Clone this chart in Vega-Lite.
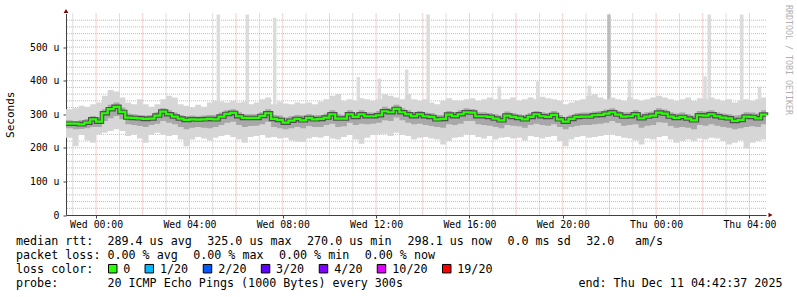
{
"$schema": "https://vega.github.io/schema/vega-lite/v6.json",
"width": 700,
"height": 201.5,
"autosize": {"type": "none"},
"padding": {"left": 66, "top": 13.5, "right": 31, "bottom": 82},
"background": "white",
"config": {"view": {"stroke": null}, "font": "DejaVu Sans Mono"},
"datasets": {
"smoke": [
{"h":-1.29,"lo":230,"a":258,"m":272,"b":282,"hi":315},
{"h":-1.0,"lo":205,"a":255,"m":272,"b":280,"hi":318},
{"h":-0.75,"lo":238,"a":256,"m":270,"b":282,"hi":325},
{"h":-0.5,"lo":222,"a":258,"m":275,"b":286,"hi":322},
{"h":-0.25,"lo":215,"a":262,"m":285,"b":295,"hi":330},
{"h":0,"lo":240,"a":262,"m":278,"b":292,"hi":335},
{"h":0.25,"lo":245,"a":280,"m":303,"b":315,"hi":355},
{"h":0.5,"lo":250,"a":288,"m":315,"b":328,"hi":372},
{"h":0.75,"lo":255,"a":295,"m":322,"b":335,"hi":368},
{"h":1.0,"lo":250,"a":285,"m":307,"b":320,"hi":350},
{"h":1.25,"lo":235,"a":270,"m":290,"b":302,"hi":335},
{"h":1.5,"lo":240,"a":268,"m":289,"b":300,"hi":330},
{"h":1.75,"lo":228,"a":265,"m":288,"b":298,"hi":345},
{"h":2.0,"lo":215,"a":262,"m":286,"b":296,"hi":330},
{"h":2.25,"lo":238,"a":268,"m":287,"b":298,"hi":322},
{"h":2.5,"lo":245,"a":272,"m":296,"b":306,"hi":330},
{"h":2.75,"lo":240,"a":280,"m":308,"b":318,"hi":345},
{"h":3.0,"lo":235,"a":275,"m":300,"b":312,"hi":355},
{"h":3.25,"lo":238,"a":270,"m":293,"b":305,"hi":350},
{"h":3.5,"lo":225,"a":262,"m":287,"b":298,"hi":330},
{"h":3.75,"lo":205,"a":255,"m":283,"b":295,"hi":325},
{"h":4.0,"lo":225,"a":260,"m":285,"b":296,"hi":320},
{"h":4.25,"lo":232,"a":262,"m":284,"b":294,"hi":328},
{"h":4.5,"lo":228,"a":260,"m":285,"b":296,"hi":322},
{"h":4.75,"lo":222,"a":258,"m":286,"b":298,"hi":335},
{"h":5.0,"lo":230,"a":262,"m":285,"b":298,"hi":340},
{"h":5.25,"lo":235,"a":268,"m":293,"b":305,"hi":338},
{"h":5.5,"lo":240,"a":275,"m":301,"b":312,"hi":335},
{"h":5.75,"lo":232,"a":278,"m":304,"b":315,"hi":340},
{"h":6.0,"lo":225,"a":268,"m":294,"b":306,"hi":335},
{"h":6.25,"lo":215,"a":262,"m":289,"b":300,"hi":338},
{"h":6.5,"lo":232,"a":265,"m":289,"b":300,"hi":330},
{"h":6.75,"lo":235,"a":266,"m":289,"b":300,"hi":335},
{"h":7.0,"lo":238,"a":270,"m":295,"b":306,"hi":345},
{"h":7.25,"lo":230,"a":278,"m":303,"b":315,"hi":350},
{"h":7.5,"lo":232,"a":262,"m":286,"b":298,"hi":330},
{"h":7.75,"lo":228,"a":258,"m":283,"b":296,"hi":338},
{"h":8.0,"lo":230,"a":255,"m":275,"b":290,"hi":332},
{"h":8.25,"lo":222,"a":258,"m":281,"b":294,"hi":330},
{"h":8.5,"lo":218,"a":262,"m":286,"b":298,"hi":335},
{"h":8.75,"lo":217,"a":258,"m":282,"b":296,"hi":332},
{"h":9.0,"lo":228,"a":265,"m":289,"b":300,"hi":335},
{"h":9.25,"lo":232,"a":262,"m":285,"b":297,"hi":330},
{"h":9.5,"lo":230,"a":262,"m":286,"b":298,"hi":338},
{"h":9.75,"lo":235,"a":268,"m":290,"b":302,"hi":345},
{"h":10.0,"lo":228,"a":272,"m":300,"b":312,"hi":355},
{"h":10.25,"lo":225,"a":262,"m":287,"b":300,"hi":360},
{"h":10.5,"lo":232,"a":264,"m":287,"b":298,"hi":340},
{"h":10.75,"lo":238,"a":275,"m":300,"b":312,"hi":345},
{"h":11.0,"lo":225,"a":268,"m":292,"b":304,"hi":340},
{"h":11.25,"lo":212,"a":272,"m":300,"b":312,"hi":348},
{"h":11.5,"lo":230,"a":270,"m":294,"b":306,"hi":345},
{"h":11.75,"lo":238,"a":272,"m":294,"b":305,"hi":340},
{"h":12.0,"lo":240,"a":275,"m":297,"b":310,"hi":345},
{"h":12.25,"lo":242,"a":282,"m":309,"b":322,"hi":360},
{"h":12.5,"lo":235,"a":280,"m":306,"b":318,"hi":355},
{"h":12.75,"lo":245,"a":290,"m":316,"b":328,"hi":350},
{"h":13.0,"lo":238,"a":282,"m":306,"b":318,"hi":345},
{"h":13.25,"lo":235,"a":275,"m":300,"b":312,"hi":360},
{"h":13.5,"lo":225,"a":270,"m":294,"b":306,"hi":345},
{"h":13.75,"lo":230,"a":272,"m":300,"b":310,"hi":340},
{"h":14.0,"lo":232,"a":268,"m":294,"b":305,"hi":345},
{"h":14.25,"lo":228,"a":265,"m":292,"b":304,"hi":335},
{"h":14.5,"lo":225,"a":262,"m":285,"b":298,"hi":330},
{"h":14.75,"lo":210,"a":260,"m":286,"b":298,"hi":340},
{"h":15.0,"lo":220,"a":270,"m":299,"b":310,"hi":348},
{"h":15.25,"lo":230,"a":268,"m":294,"b":306,"hi":342},
{"h":15.5,"lo":232,"a":272,"m":300,"b":312,"hi":340},
{"h":15.75,"lo":240,"a":280,"m":306,"b":318,"hi":345},
{"h":16.0,"lo":238,"a":280,"m":305,"b":316,"hi":348},
{"h":16.25,"lo":232,"a":270,"m":294,"b":306,"hi":340},
{"h":16.5,"lo":228,"a":268,"m":294,"b":306,"hi":345},
{"h":16.75,"lo":235,"a":266,"m":292,"b":304,"hi":350},
{"h":17.0,"lo":225,"a":262,"m":287,"b":300,"hi":345},
{"h":17.25,"lo":230,"a":258,"m":282,"b":296,"hi":345},
{"h":17.5,"lo":232,"a":268,"m":296,"b":308,"hi":345},
{"h":17.75,"lo":228,"a":266,"m":292,"b":304,"hi":350},
{"h":18.0,"lo":230,"a":264,"m":289,"b":300,"hi":340},
{"h":18.25,"lo":222,"a":260,"m":285,"b":298,"hi":345},
{"h":18.5,"lo":235,"a":268,"m":292,"b":304,"hi":350},
{"h":18.75,"lo":232,"a":272,"m":300,"b":310,"hi":345},
{"h":19.0,"lo":228,"a":268,"m":294,"b":306,"hi":352},
{"h":19.25,"lo":232,"a":266,"m":292,"b":304,"hi":348},
{"h":19.5,"lo":235,"a":270,"m":298,"b":310,"hi":345},
{"h":19.75,"lo":220,"a":262,"m":285,"b":298,"hi":340},
{"h":20.0,"lo":205,"a":255,"m":278,"b":292,"hi":330},
{"h":20.25,"lo":225,"a":262,"m":286,"b":298,"hi":335},
{"h":20.5,"lo":232,"a":266,"m":292,"b":304,"hi":340},
{"h":20.75,"lo":235,"a":268,"m":293,"b":305,"hi":345},
{"h":21.0,"lo":230,"a":268,"m":293,"b":305,"hi":355},
{"h":21.25,"lo":232,"a":270,"m":297,"b":308,"hi":360},
{"h":21.5,"lo":235,"a":272,"m":298,"b":310,"hi":350},
{"h":21.75,"lo":238,"a":275,"m":302,"b":314,"hi":345},
{"h":22.0,"lo":240,"a":280,"m":306,"b":318,"hi":350},
{"h":22.25,"lo":235,"a":274,"m":299,"b":310,"hi":345},
{"h":22.5,"lo":230,"a":266,"m":293,"b":306,"hi":340},
{"h":22.75,"lo":228,"a":268,"m":294,"b":306,"hi":350},
{"h":23.0,"lo":222,"a":270,"m":300,"b":312,"hi":345},
{"h":23.25,"lo":210,"a":260,"m":288,"b":302,"hi":340},
{"h":23.5,"lo":228,"a":266,"m":293,"b":306,"hi":345},
{"h":23.75,"lo":225,"a":268,"m":296,"b":308,"hi":350},
{"h":24.0,"lo":232,"a":276,"m":305,"b":318,"hi":355},
{"h":24.25,"lo":235,"a":275,"m":302,"b":314,"hi":350},
{"h":24.5,"lo":225,"a":265,"m":293,"b":306,"hi":345},
{"h":24.75,"lo":215,"a":260,"m":289,"b":302,"hi":340},
{"h":25.0,"lo":220,"a":262,"m":292,"b":305,"hi":345},
{"h":25.25,"lo":225,"a":260,"m":287,"b":300,"hi":350},
{"h":25.5,"lo":220,"a":255,"m":282,"b":296,"hi":340},
{"h":25.75,"lo":228,"a":268,"m":297,"b":310,"hi":348},
{"h":26.0,"lo":225,"a":266,"m":296,"b":308,"hi":345},
{"h":26.25,"lo":230,"a":270,"m":300,"b":312,"hi":350},
{"h":26.5,"lo":228,"a":266,"m":294,"b":306,"hi":345},
{"h":26.75,"lo":220,"a":262,"m":290,"b":302,"hi":340},
{"h":27.0,"lo":210,"a":260,"m":288,"b":300,"hi":345},
{"h":27.25,"lo":215,"a":255,"m":280,"b":296,"hi":335},
{"h":27.5,"lo":222,"a":258,"m":283,"b":298,"hi":340},
{"h":27.75,"lo":198,"a":262,"m":293,"b":306,"hi":345},
{"h":28.0,"lo":215,"a":264,"m":292,"b":305,"hi":340},
{"h":28.25,"lo":220,"a":262,"m":288,"b":302,"hi":345},
{"h":28.5,"lo":225,"a":270,"m":299,"b":312,"hi":350},
{"h":28.7103,"lo":225,"a":270,"m":298,"b":312,"hi":350}
],
"spikes": [
{"h":5.24,"lo":300,"hi":597},
{"h":6.48,"lo":300,"hi":597},
{"h":7.655,"lo":300,"hi":587},
{"h":11.24,"lo":300,"hi":411},
{"h":12.14,"lo":300,"hi":406},
{"h":13.31,"lo":300,"hi":433},
{"h":14.23,"lo":300,"hi":597},
{"h":17.28,"lo":300,"hi":383},
{"h":18.93,"lo":300,"hi":398},
{"h":21.14,"lo":300,"hi":385},
{"h":22.86,"lo":300,"hi":403},
{"h":26.1,"lo":300,"hi":413},
{"h":26.28,"lo":300,"hi":597},
{"h":27.67,"lo":300,"hi":597},
{"h":28.43,"lo":300,"hi":382}
],
"spikesDark": [{"h":21.98,"lo":300,"hi":597}],
"vMajor": [{"h":0},{"h":2},{"h":4},{"h":6},{"h":8},{"h":10},{"h":12},{"h":14},{"h":16},{"h":18},{"h":20},{"h":22},{"h":24},{"h":26},{"h":28}],
"vMinor": [{"h":-1},{"h":1},{"h":3},{"h":5},{"h":7},{"h":9},{"h":11},{"h":13},{"h":15},{"h":17},{"h":19},{"h":21},{"h":23},{"h":25},{"h":27}],
"hMajor": [{"v":100},{"v":200},{"v":300},{"v":400},{"v":500}],
"hMinor": [{"v":20},{"v":40},{"v":60},{"v":80},{"v":120},{"v":140},{"v":160},{"v":180},{"v":220},{"v":240},{"v":260},{"v":280},{"v":320},{"v":340},{"v":360},{"v":380},{"v":420},{"v":440},{"v":460},{"v":480},{"v":520},{"v":540},{"v":560},{"v":580}],
"arrowUp": [{"h":-1.2897,"v":600}],
"arrowRight": [{"h":28.7103,"v":0}],
"texts": [
{"h":-3.4326,"v":-88.44,"txt":"median rtt:"},
{"h":0.4841,"v":-88.44,"txt":"289.4 us avg"},
{"h":4.7625,"v":-88.44,"txt":"325.0 us max"},
{"h":9.0408,"v":-88.44,"txt":"270.0 us min"},
{"h":13.349,"v":-88.44,"txt":"298.1 us now"},
{"h":17.627,"v":-88.44,"txt":"0.0 ms sd"},
{"h":21.002,"v":-88.44,"txt":"32.0"},
{"h":23.096,"v":-88.44,"txt":"am/s"},
{"h":-3.4326,"v":-130.12,"txt":"packet loss:"},
{"h":0.4841,"v":-130.12,"txt":"0.00 % avg"},
{"h":4.16,"v":-130.12,"txt":"0.00 % max"},
{"h":7.8355,"v":-130.12,"txt":"0.00 % min"},
{"h":11.511,"v":-130.12,"txt":"0.00 % now"},
{"h":-3.4326,"v":-171.81,"txt":"loss color:"},
{"h":1.1652,"v":-171.81,"txt":"0"},
{"h":2.7377,"v":-171.81,"txt":"1/20"},
{"h":5.2383,"v":-171.81,"txt":"2/20"},
{"h":7.7089,"v":-171.81,"txt":"3/20"},
{"h":10.2095,"v":-171.81,"txt":"4/20"},
{"h":12.6955,"v":-171.81,"txt":"10/20"},
{"h":15.4791,"v":-171.81,"txt":"19/20"},
{"h":-3.4326,"v":-213.5,"txt":"probe:"},
{"h":0.4841,"v":-213.5,"txt":"20 ICMP Echo Pings (1000 Bytes) every 300s"},
{"h":20.6703,"v":-213.5,"txt":"end: Thu Dec 11 04:42:37 2025"}
],
"boxes": [
{"h":0.713,"v":-159.9,"loss":"0"},
{"h":2.2798,"v":-159.9,"loss":"1/20"},
{"h":4.7745,"v":-159.9,"loss":"2/20"},
{"h":7.2632,"v":-159.9,"loss":"3/20"},
{"h":9.7457,"v":-159.9,"loss":"4/20"},
{"h":12.2317,"v":-159.9,"loss":"10/20"},
{"h":15.0277,"v":-159.9,"loss":"19/20"}
],
"watermark": [{"h":29.6397,"v":625.31,"txt":"RRDTOOL / TOBI OETIKER"}]
},
"layer": [
{
"data": {"name": "vMinor"},
"mark": {"type": "rule", "color": "#bdbdbd", "strokeDash": [1, 1], "strokeWidth": 1},
"encoding": {
"x": {"field": "h", "type": "quantitative",
"scale": {"domain": [-1.2897, 28.7103], "zero": false, "nice": false},
"axis": {
"values": [0,4,8,12,16,20,24,28],
"title": null, "grid": false,
"labelFont": "DejaVu Sans Mono", "labelFontSize": 9.8, "labelColor": "#000000",
"labelExpr": "(datum.value < 24 ? 'Wed ' : 'Thu ') + ((datum.value % 24) < 10 ? '0' : '') + (datum.value % 24) + ':00'",
"labelOverlap": false, "labelFlush": false, "labelPadding": 1,
"domainColor": "#404040", "tickColor": "#404040", "tickSize": 3
}
}
}
},
{
"data": {"name": "hMinor"},
"mark": {"type": "rule", "color": "#bdbdbd", "strokeDash": [1, 1], "strokeWidth": 1},
"encoding": {
"y": {"field": "v", "type": "quantitative",
"scale": {"domain": [0, 600], "zero": false, "nice": false},
"axis": {
"values": [0,100,200,300,400,500],
"title": "Seconds", "titleFont": "DejaVu Sans Mono", "titleFontSize": 11, "titleFontWeight": "normal", "titleColor": "#000000", "titlePadding": 14.5,
"labelFont": "DejaVu Sans Mono", "labelFontSize": 9.8, "labelColor": "#000000",
"labelExpr": "datum.value == 0 ? '0' : datum.value + ' u'",
"labelPadding": 4, "labelOverlap": false, "labelFlush": false, "grid": false,
"domainColor": "#404040", "tickColor": "#404040", "tickSize": 3
}
}
}
},
{
"data": {"name": "vMajor"},
"mark": {"type": "rule", "color": "#e8a0a0", "strokeDash": [1, 1], "strokeWidth": 1},
"encoding": {"x": {"field": "h", "type": "quantitative"}}
},
{
"data": {"name": "hMajor"},
"mark": {"type": "rule", "color": "#e8a0a0", "strokeDash": [1, 1], "strokeWidth": 1},
"encoding": {"y": {"field": "v", "type": "quantitative"}}
},
{
"data": {"name": "spikes"},
"mark": {"type": "rule", "strokeWidth": 3.5, "color": "#dcdcdc"},
"encoding": {
"x": {"field": "h", "type": "quantitative"},
"y": {"field": "lo", "type": "quantitative"},
"y2": {"field": "hi"}
}
},
{
"data": {"name": "spikesDark"},
"mark": {"type": "rule", "strokeWidth": 3.5, "color": "#bcbcbc"},
"encoding": {
"x": {"field": "h", "type": "quantitative"},
"y": {"field": "lo", "type": "quantitative"},
"y2": {"field": "hi"}
}
},
{
"data": {"name": "smoke"},
"mark": {"type": "area", "interpolate": "step-after", "color": "#d6d6d6"},
"encoding": {
"x": {"field": "h", "type": "quantitative"},
"y": {"field": "lo", "type": "quantitative"},
"y2": {"field": "hi"}
}
},
{
"data": {"name": "smoke"},
"mark": {"type": "area", "interpolate": "step-after", "color": "#a8a8a8"},
"encoding": {
"x": {"field": "h", "type": "quantitative"},
"y": {"field": "a", "type": "quantitative"},
"y2": {"field": "b"}
}
},
{
"data": {"name": "smoke"},
"mark": {"type": "line", "interpolate": "step-after", "color": "#404040", "strokeWidth": 4.5, "opacity": 0.85},
"encoding": {
"x": {"field": "h", "type": "quantitative"},
"y": {"field": "m", "type": "quantitative"}
}
},
{
"data": {"name": "smoke"},
"mark": {"type": "line", "interpolate": "step-after", "color": "#26ff00", "strokeWidth": 2.2},
"encoding": {
"x": {"field": "h", "type": "quantitative"},
"y": {"field": "m", "type": "quantitative"}
}
},
{
"data": {"name": "arrowUp"},
"mark": {"type": "point", "shape": "triangle-up", "filled": true, "color": "#7f0000", "size": 22, "yOffset": -2.5, "opacity": 1},
"encoding": {
"x": {"field": "h", "type": "quantitative"},
"y": {"field": "v", "type": "quantitative"}
}
},
{
"data": {"name": "arrowRight"},
"mark": {"type": "point", "shape": "triangle-right", "filled": true, "color": "#7f0000", "size": 22, "xOffset": 4.5, "opacity": 1},
"encoding": {
"x": {"field": "h", "type": "quantitative"},
"y": {"field": "v", "type": "quantitative"}
}
},
{
"data": {"name": "texts"},
"mark": {"type": "text", "align": "left", "baseline": "alphabetic", "font": "DejaVu Sans Mono", "fontSize": 11.7, "color": "#000000"},
"encoding": {
"x": {"field": "h", "type": "quantitative"},
"y": {"field": "v", "type": "quantitative"},
"text": {"field": "txt"}
}
},
{
"data": {"name": "boxes"},
"mark": {"type": "point", "shape": "square", "filled": true, "size": 72, "stroke": "#000000", "strokeWidth": 1, "opacity": 1},
"encoding": {
"x": {"field": "h", "type": "quantitative"},
"y": {"field": "v", "type": "quantitative"},
"color": {"field": "loss", "type": "nominal",
"scale": {"domain": ["0","1/20","2/20","3/20","4/20","10/20","19/20"], "range": ["#26ff00","#00b8ff","#0059ff","#5e00ff","#7e00ff","#dd00ff","#ff0000"]},
"legend": null}
}
},
{
"data": {"name": "watermark"},
"mark": {"type": "text", "align": "left", "baseline": "middle", "angle": 90, "font": "DejaVu Sans Mono", "fontSize": 8.3, "color": "#b0b0b0"},
"encoding": {
"x": {"field": "h", "type": "quantitative"},
"y": {"field": "v", "type": "quantitative"},
"text": {"field": "txt"}
}
}
]
}
